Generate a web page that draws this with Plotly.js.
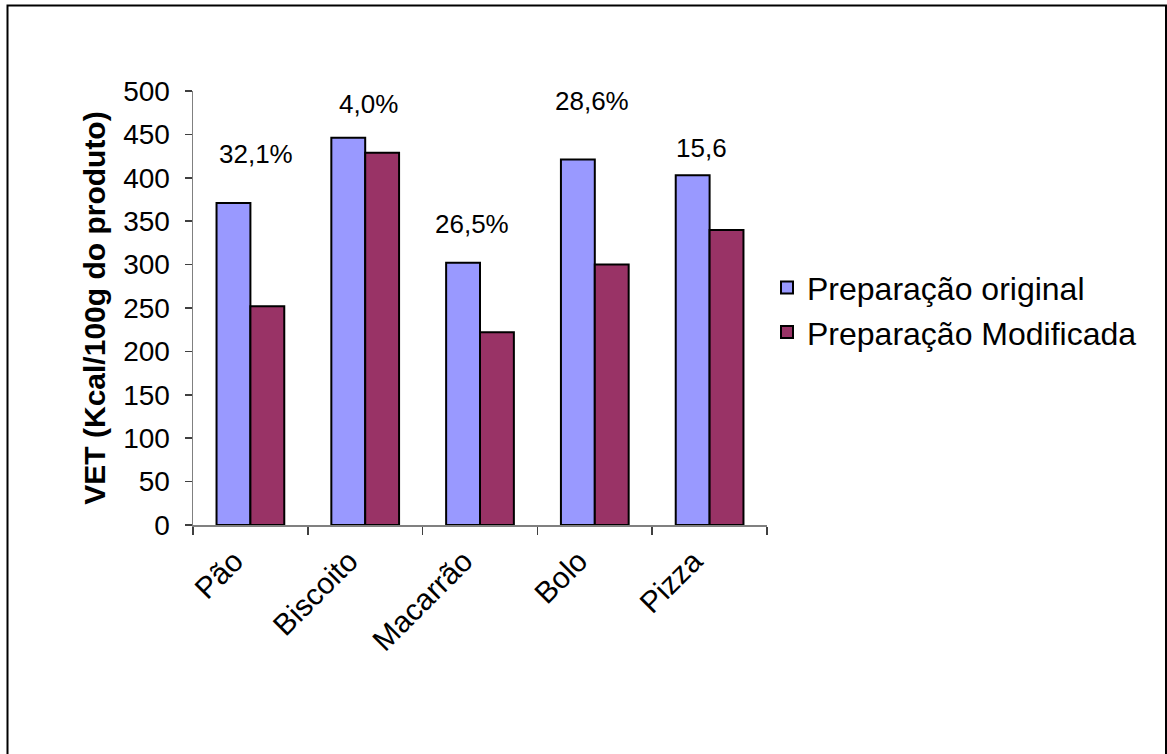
<!DOCTYPE html>
<html>
<head>
<meta charset="utf-8">
<script src="https://cdn.plot.ly/plotly-3.0.1.min.js"></script>
<style>
  html, body { margin: 0; padding: 0; background: #fff; }
  #chart { width: 1167px; height: 754px; }
</style>
</head>
<body>
<div id="chart"></div>
<script>
// ---- data ----
const categories = ['Pão', 'Biscoito', 'Macarrão', 'Bolo', 'Pizza'];
const original = [371, 446, 302, 421, 403];
const modificada = [252, 429, 222, 300, 340];
const reductionLabels = ['32,1%', '4,0%', '26,5%', '28,6%', '15,6'];
const seriesNames = ['Preparação original', 'Preparação Modificada'];
const yTicks = [0, 50, 100, 150, 200, 250, 300, 350, 400, 450, 500];

// ---- layout helpers (label placement) ----
const labelY = [428, 485, 347, 488, 434];
const labelXShift = [6, 3, -8, -3, -8];

const FONT = '"Liberation Sans", Arial, sans-serif';

const traces = [
  {
    type: 'bar', name: seriesNames[0], x: categories, y: original,
    marker: { color: '#9999FF', line: { color: '#000000', width: 2 } },
    hoverinfo: 'x+y'
  },
  {
    type: 'bar', name: seriesNames[1], x: categories, y: modificada,
    marker: { color: '#993366', line: { color: '#000000', width: 2 } },
    hoverinfo: 'x+y'
  }
];

const annotations = categories.map((c, i) => ({
  x: c, y: labelY[i], xref: 'x', yref: 'y',
  text: reductionLabels[i], showarrow: false,
  xshift: labelXShift[i], yanchor: 'middle', xanchor: 'center',
  font: { family: FONT, size: 26, color: '#000' }
}));

const layout = {
  width: 1167, height: 754,
  margin: { l: 193, r: 400, t: 91, b: 229, pad: 0 },
  paper_bgcolor: '#ffffff', plot_bgcolor: '#ffffff',
  barmode: 'group', bargap: 0.41, bargroupgap: 0,
  showlegend: true,
  legend: {
    x: 1.0, xanchor: 'left', y: 0.495, yanchor: 'middle',
    font: { family: FONT, size: 32, color: '#000' },
    bgcolor: 'rgba(0,0,0,0)', traceorder: 'normal'
  },
  xaxis: {
    type: 'category', showgrid: false, zeroline: false,
    showline: true, linecolor: '#808080', linewidth: 1.5,
    ticks: 'outside', ticklen: 8, tickcolor: '#404040', tickwidth: 1.5,
    tickson: 'boundaries', tickangle: -45,
    ticklabelstandoff: 5, ticklabelshift: -16,
    tickfont: { family: FONT, size: 30, color: '#000' },
    automargin: false
  },
  yaxis: {
    range: [0, 500], tickvals: yTicks, ticktext: yTicks.map(String),
    showgrid: false, zeroline: false,
    showline: true, linecolor: '#808080', linewidth: 1.5,
    ticks: 'outside', ticklen: 7, tickcolor: '#404040', tickwidth: 1.5,
    ticklabelstandoff: 9,
    tickfont: { family: FONT, size: 28, color: '#000' },
    title: { text: 'VET (Kcal/100g do produto)', standoff: 8,
             font: { family: FONT, size: 30, color: '#000', weight: 'bold' } },
    automargin: false
  },
  annotations: annotations,
  shapes: [{
    type: 'rect', xref: 'paper', yref: 'paper',
    x0: (7.5 - 193) / 574, x1: (1166 - 193) / 574,
    y0: (525 - 760) / 434, y1: (525 - 5.5) / 434,
    line: { color: '#000', width: 2 }, fillcolor: 'rgba(0,0,0,0)', layer: 'below'
  }]
};

Plotly.newPlot('chart', traces, layout, { displayModeBar: false, staticPlot: true });
</script>
</body>
</html>
